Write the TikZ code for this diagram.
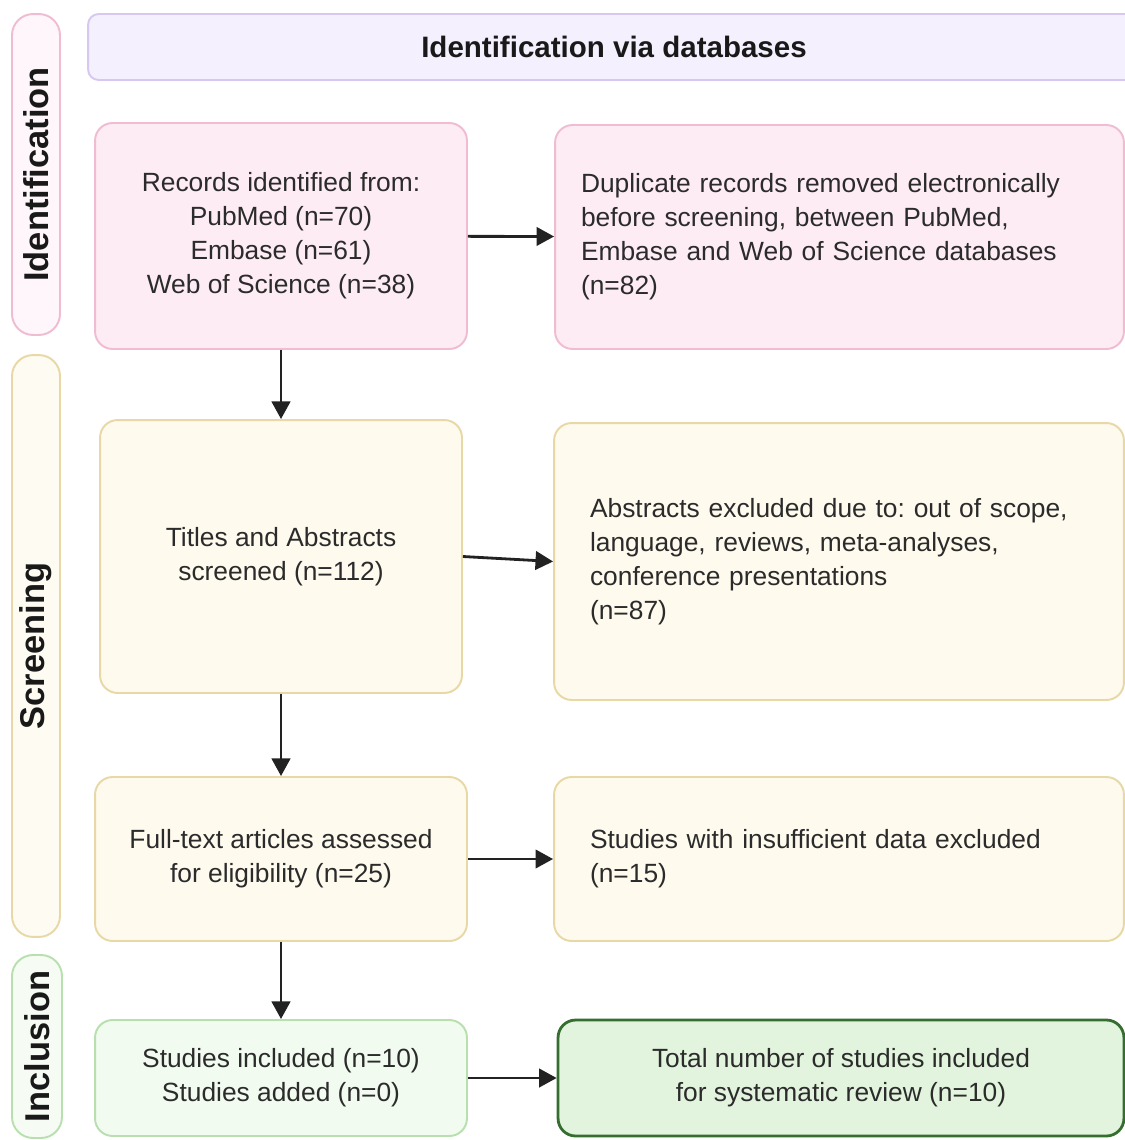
\documentclass[tikz,border=0pt]{standalone}
\usepackage{fontspec}
\setmainfont{Liberation Sans}
\usetikzlibrary{arrows.meta,positioning}
\frenchspacing

\definecolor{pinkfill}{HTML}{FDECF4}
\definecolor{pinkline}{HTML}{F0BCD2}
\definecolor{lavfill}{HTML}{F5F0FD}
\definecolor{lavline}{HTML}{D6C8F0}
\definecolor{yelfill}{HTML}{FEFAEE}
\definecolor{yelline}{HTML}{E8D8A6}
\definecolor{grnfill}{HTML}{F2FBF0}
\definecolor{grnline}{HTML}{B8E0AE}
\definecolor{totfill}{HTML}{E2F4DD}
\definecolor{totline}{HTML}{356E2E}
\definecolor{txtgray}{HTML}{2B2B2B}
\definecolor{arrowgray}{HTML}{222222}

\begin{document}
\begin{tikzpicture}[x=0.02cm,y=-0.02cm,
  box/.style={draw, rounded corners=10pt, line width=1.1pt, text=txtgray,
    font=\fontsize{15}{19.35}\selectfont, inner sep=0pt, align=center},
  pinkbox/.style={box, draw=pinkline, fill=pinkfill},
  yelbox/.style={box, draw=yelline, fill=yelfill},
  grnbox/.style={box, draw=grnline, fill=grnfill},
  sidebar/.style={draw, rounded corners=12pt, line width=1.1pt, rotate=90,
    font=\bfseries\fontsize{19.6}{22}\selectfont, text=black!90, inner sep=0pt},
  flow/.style={line width=1.6pt, draw=arrowgray, -{Triangle[length=10pt,width=10.5pt]}}]
\useasboundingbox (0,0) rectangle (1125,1140);
\clip (0,0) rectangle (1125,1140);

% phase bars on the left
\node[sidebar, draw=pinkline, fill=pinkfill!45!white, minimum width=6.42cm, minimum height=0.96cm] (idn) at (36,174.5) {Identification};
\node[sidebar, draw=yelline, fill=yelfill!70!white, minimum width=11.64cm, minimum height=0.96cm] (scr) at (36,646) {Screening};
\node[sidebar, draw=grnline, fill=grnfill!70!white, minimum width=3.66cm, minimum height=1.00cm] (incl) at (37,1046.5) {Inclusion};

% header
\node[box, draw=lavline, fill=lavfill, text=black!90, font=\bfseries\fontsize{16.8}{20}\selectfont,
  rounded corners=6pt, minimum width=21.04cm, minimum height=1.32cm] (head) at (614,47) {Identification via databases};

% boxes
\node[pinkbox, minimum width=7.44cm, minimum height=4.52cm] (rec) at (281,236)
  {Records identified from:\\ PubMed (n=70)\\ Embase (n=61)\\ Web of Science (n=38)};
\node[pinkbox, align=left, text width=10.34cm, minimum width=11.38cm, minimum height=4.48cm] (dup) at (839.5,237)
  {Duplicate records removed electronically\\ before screening, between PubMed,\\ Embase and Web of Science databases\\ (n=82)};
\node[yelbox, minimum width=7.24cm, minimum height=5.46cm] (tit) at (281,556.5)
  {Titles and Abstracts\\ screened (n=112)};
\node[yelbox, align=left, text width=9.96cm, minimum width=11.40cm, minimum height=5.54cm] (abs) at (839,561.5)
  {Abstracts excluded due to: out of scope,\\ language, reviews, meta-analyses,\\ conference presentations\\ (n=87)};
\node[yelbox, minimum width=7.44cm, minimum height=3.28cm] (full) at (281,859)
  {Full-text articles assessed\\ for eligibility (n=25)};
\node[yelbox, align=left, text width=9.96cm, minimum width=11.40cm, minimum height=3.28cm] (insuf) at (839,859)
  {Studies with insufficient data excluded\\ (n=15)};
\node[grnbox, minimum width=7.44cm, minimum height=2.32cm] (inc) at (281,1078)
  {Studies included (n=10)\\ Studies added (n=0)};
\node[box, draw=totline, fill=totfill, line width=1.6pt, minimum width=11.32cm, minimum height=2.32cm] (tot) at (841,1078)
  {Total number of studies included\\ for systematic review (n=10)};

% connectors
\draw[flow] (rec) -- (dup);
\draw[flow] (rec) -- (tit);
\draw[flow] (tit.east) -- (abs.west);
\draw[flow] (tit) -- (full);
\draw[flow] (full) -- (insuf);
\draw[flow] (full) -- (inc);
\draw[flow] (inc) -- (tot);
\end{tikzpicture}
\end{document}
